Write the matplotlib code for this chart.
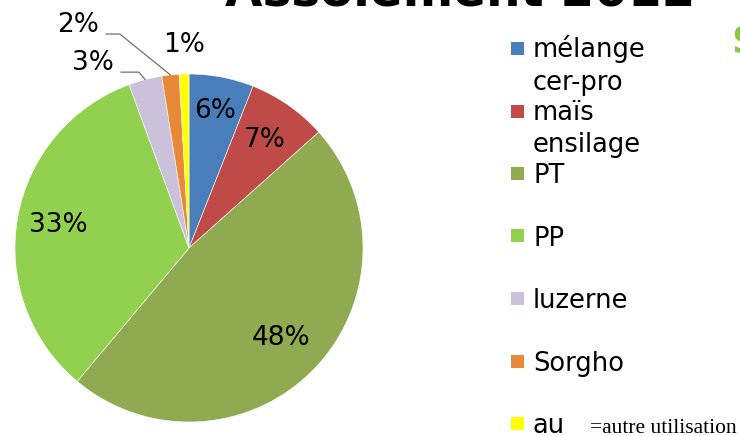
import matplotlib.pyplot as plt
from matplotlib.patches import Rectangle
import numpy as np

# assolement 2012, parts en %
cultures = ["mélange\ncer-pro", "maïs\nensilage", "PT", "PP", "luzerne", "Sorgho", "au"]
parts = [6.0, 7.4, 47.7, 33.3, 3.1, 1.6, 0.9]
couleurs = ["#4A7EBB", "#BE4B48", "#8FAA50", "#92D050", "#CCC1DA", "#E8893A", "#FFFF00"]

W, H = 740, 436
fig = plt.figure(figsize=(W / 100, H / 100), dpi=100)
fig.patch.set_facecolor("white")

def px(x, y):
    # pixel (haut-gauche) -> fraction figure
    return x / W, 1 - y / H

ax = fig.add_axes([15 / W, 14 / H, 348 / W, 348 / H])
wedges, _ = ax.pie(parts, colors=couleurs, startangle=90, counterclock=False,
                   radius=1, wedgeprops=dict(edgecolor="white", linewidth=0.4))
ax.set_xlim(-1, 1)
ax.set_ylim(-1, 1)
ax.set_aspect("equal")
ax.axis("off")

total = sum(parts)
pcts = [f"{v / total * 100:.0f}%" for v in parts]

# etiquettes dans les parts
r_in = [0.80, 0.76, 0.74, 0.76]
for i in range(4):
    w = wedges[i]
    a = np.deg2rad((w.theta1 + w.theta2) / 2)
    ax.text(r_in[i] * np.cos(a), r_in[i] * np.sin(a), pcts[i], fontsize=19,
            ha="center", va="center", color="black")

# etiquettes dehors (petites parts)
pos_out = {4: (-0.552, 1.063), 5: (-0.638, 1.282), 6: (-0.029, 1.165)}
angB = {4: -50, 5: -39}
for i, (tx, ty) in pos_out.items():
    w = wedges[i]
    a = np.deg2rad((w.theta1 + w.theta2) / 2)
    if i in angB:
        ax.annotate(pcts[i], xy=(np.cos(a), np.sin(a)), xytext=(tx, ty),
                    fontsize=19, ha="center", va="center", annotation_clip=False,
                    arrowprops=dict(arrowstyle="-", color="#707070", lw=0.9,
                                    relpos=(1, 0.15), shrinkA=3, shrinkB=0,
                                    connectionstyle=f"angle,angleA=0,angleB={angB[i]},rad=0"))
    else:
        ax.text(tx, ty, pcts[i], fontsize=19, ha="center", va="center", clip_on=False)

# legende a la main (baseline = derniere ligne du texte)
for i, (lab, c) in enumerate(zip(cultures, couleurs)):
    yb = 58 + 62.5 * i
    x0, y0 = px(511, yb - 3)
    fig.add_artist(Rectangle((x0, y0), 13 / W, 13 / H, transform=fig.transFigure,
                             facecolor=c, edgecolor="none"))
    n = lab.count("\n")
    fig.text(*px(533, yb + 32 * n), lab, fontsize=18.5, va="baseline", ha="left",
             linespacing=1.33)

fig.text(*px(590, 433), "=autre utilisation", fontsize=15.5, va="baseline",
         ha="left", family="Liberation Serif")

# titre coupe en haut
fig.text(*px(460, 5.5), "Assolement 2012", fontsize=34.8, fontweight="bold",
         ha="center", va="baseline")
fig.text(*px(731, 53), "S", fontsize=27, fontweight="bold", color="#8CC63E",
         ha="left", va="baseline")

fig.savefig("out.png", dpi=100)
